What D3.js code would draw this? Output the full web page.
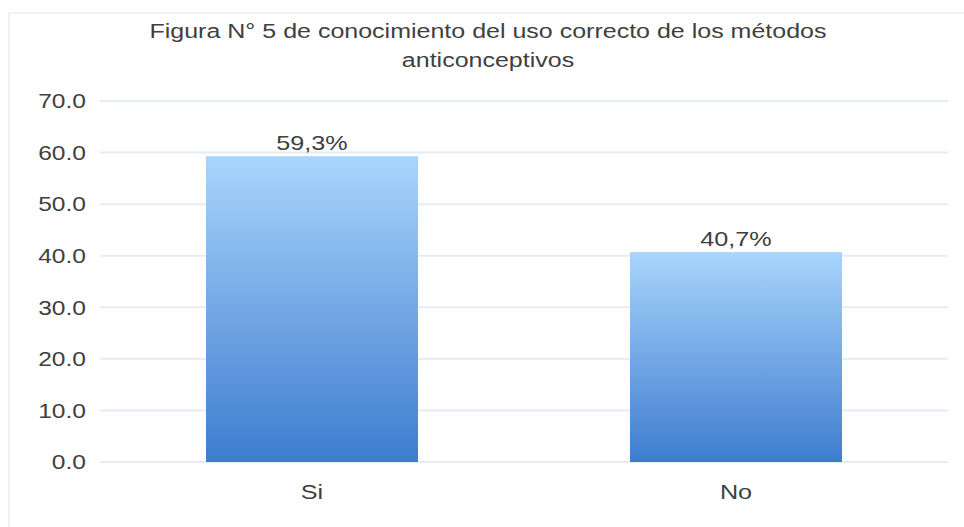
<!DOCTYPE html>
<html>
<head>
<meta charset="utf-8">
<script src="https://cdn.jsdelivr.net/npm/d3@7"></script>
<style>
  body { margin: 0; background: #fff; }
  text { font-family: "Liberation Sans", Arial, sans-serif; fill: #404040; }
</style>
</head>
<body>
<div id="chart"></div>
<script>
const categories = ["Si", "No"];
const values = [59.3, 40.7];
const valueLabels = ["59,3%", "40,7%"];
const yTicks = [0, 10, 20, 30, 40, 50, 60, 70];
const titleLines = ["Figura N° 5 de conocimiento del uso correcto de los métodos", "anticonceptivos"];

const W = 964, H = 527;
const margin = { top: 101, right: 16, bottom: 65, left: 100 };
const width = W - margin.left - margin.right,
  height = H - margin.top - margin.bottom;

// the reference text is drawn a bit wider than normal
function stretch(sel, k) {
  sel.each(function () {
    const w = this.getComputedTextLength();
    d3.select(this).attr("textLength", w * k).attr("lengthAdjust", "spacingAndGlyphs");
  });
}

const svg = d3.select("#chart").append("svg").attr("width", W).attr("height", H);

// gradient for bars
const grad = svg.append("defs").append("linearGradient")
  .attr("id", "barGrad").attr("x1", 0).attr("y1", 0).attr("x2", 0).attr("y2", 1);
grad.append("stop").attr("offset", "0%").attr("stop-color", "#a9d5fc");
grad.append("stop").attr("offset", "100%").attr("stop-color", "#3e7ccf");

// chart frame
svg.append("rect")
  .attr("x", 9).attr("y", 13).attr("width", W - 8).attr("height", H)
  .attr("fill", "none").attr("stroke", "#e8eef8").attr("stroke-width", 1.5);

const g = svg.append("g").attr("transform", `translate(${margin.left},${margin.top})`);

const x = d3.scaleBand().domain(categories).range([0, width]).paddingInner(0.5).paddingOuter(0.25);
const y = d3.scaleLinear().domain([0, 70]).range([height, 0]);

// gridlines
g.selectAll(".grid")
  .data(yTicks)
  .enter()
  .append("line")
  .attr("class", "grid")
  .attr("x1", 0).attr("x2", width)
  .attr("y1", (d) => y(d)).attr("y2", (d) => y(d))
  .attr("stroke", "#e4ecf7").attr("stroke-width", 2);

// y axis
const yAxis = g.append("g")
  .call(d3.axisLeft(y).tickValues(yTicks).tickFormat(d3.format(".1f")).tickSize(0).tickPadding(14));
yAxis.select(".domain").remove();
yAxis.selectAll("text").attr("font-size", 21).style("fill", "#404040").call(stretch, 1.17);

// bars
g.selectAll(".bar")
  .data(values)
  .enter()
  .append("rect")
  .attr("class", "bar")
  .attr("x", (d, i) => x(categories[i]))
  .attr("y", (d) => y(d))
  .attr("width", x.bandwidth())
  .attr("height", (d) => height - y(d))
  .attr("fill", "url(#barGrad)");

// value labels
g.selectAll(".vlabel")
  .data(values)
  .enter()
  .append("text")
  .attr("class", "vlabel")
  .attr("x", (d, i) => x(categories[i]) + x.bandwidth() / 2)
  .attr("y", (d) => y(d) - 6)
  .attr("text-anchor", "middle")
  .attr("font-size", 21)
  .text((d, i) => valueLabels[i])
  .call(stretch, 1.2);

// x axis
const xAxis = g.append("g")
  .attr("transform", `translate(0,${height})`)
  .call(d3.axisBottom(x).tickSize(0).tickPadding(22));
xAxis.select(".domain").remove();
xAxis.selectAll("text").attr("font-size", 21).style("fill", "#404040").call(stretch, 1.2);

// title
svg.selectAll(".title")
  .data(titleLines)
  .enter()
  .append("text")
  .attr("class", "title")
  .attr("x", 488)
  .attr("y", (d, i) => 38 + i * 29)
  .attr("text-anchor", "middle")
  .attr("font-size", 20)
  .text((d) => d)
  .call(stretch, 1.25);
</script>
</body>
</html>
